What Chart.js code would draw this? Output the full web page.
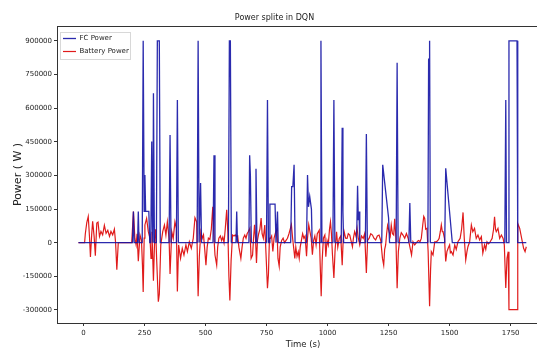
<!DOCTYPE html>
<html>
<head>
<meta charset="utf-8">
<script src="https://cdn.jsdelivr.net/npm/chart.js@4.4.1/dist/chart.umd.min.js"></script>
<style>
  html, body { margin: 0; padding: 0; background: #fff; overflow: hidden; }
  #wrap { width: 560px; height: 352px; overflow: hidden; }
</style>
</head>
<body>
<div id="wrap"><canvas id="powerChart" width="560" height="352"></canvas></div>
<script>
// FC power (blue): mostly zero with spikes
const fcTime = [-20, 201, 205, 208, 222, 225, 228, 241, 245, 249, 252, 255, 268, 272, 276, 280, 283, 285, 287, 291,
  299, 303, 311, 315, 351, 355, 359, 381, 385, 389, 466, 470, 474, 477, 480, 484, 531, 535, 539, 594, 598, 602, 606,
  625, 628, 631, 678, 681, 684, 688, 703, 707, 711, 750, 754, 758, 762, 764, 785, 789, 792, 795, 798, 849, 853, 858,
  863, 867, 914, 918, 922, 927, 934, 937, 970, 973, 977, 1022, 1026, 1030, 1056, 1060, 1063, 1066, 1119, 1123, 1126,
  1129, 1132, 1155, 1159, 1163, 1222, 1226, 1250, 1254, 1281, 1285, 1289, 1333, 1337, 1341, 1411, 1414, 1416, 1418,
  1421, 1480, 1484, 1511, 1726, 1730, 1733, 1740, 1743, 1776, 1779, 1814]
const fcPower = [0, 0, 139000, 0, 0, 139000, 0, 0, 900000, 140000, 302000, 140000, 140000, 0, 0, 451000, 60000, 0, 666000, 0,
  0, 900000, 900000, 0, 0, 480000, 0, 0, 636000, 0, 0, 900000, 0, 0, 266000, 0, 0, 390000, 0, 0, 900000, 900000, 0,
  0, 139000, 0, 0, 390000, 300000, 0, 0, 330000, 0, 0, 636000, 0, 0, 172000, 172000, 0, 0, 139000, 0, 0, 250000, 250000,
  347000, 0, 0, 302000, 160000, 206000, 150000, 0, 0, 900000, 0, 0, 636000, 0, 0, 512000, 139000, 0, 0, 254000, 100000,
  139000, 0, 0, 484000, 0, 0, 347000, 110000, 0, 0, 802000, 0, 0, 177000, 0, 0, 818000, 818000, 900000,
  0, 0, 332000, 0, 0, 636000, 0, 0, 900000, 900000, 0, 0]

// Battery power (red)
const batteryTime = [-20, 5, 8, 14, 20, 25, 29, 34, 38, 44, 49, 55, 60, 66, 72, 79, 86, 93, 100, 107, 113, 120, 127, 132, 137, 143,
  198, 205, 211, 216, 220, 225, 232, 238, 242, 245, 249, 252, 259, 266, 273, 277, 281, 287, 292, 296, 300, 307, 311, 317,
  325, 332, 338, 344, 351, 355, 362, 368, 375, 381, 385, 390, 398, 405, 412, 420, 426, 434, 442, 450, 457, 464, 470, 475,
  481, 487, 492, 497, 502, 507, 512, 518, 524, 530, 534, 539, 546, 550, 555, 561, 566, 571, 576, 581, 587, 592, 596, 600,
  605, 611, 617, 622, 627, 632, 637, 645, 650, 655, 661, 666, 671, 676, 682, 687, 693, 697, 701, 705, 709, 713, 718, 723,
  728, 732, 737, 743, 748, 754, 758, 762, 766, 771, 776, 781, 788, 793, 797, 802, 806, 812, 818, 824, 830, 836, 842, 848,
  852, 857, 862, 866, 870, 875, 880, 884, 888, 893, 898, 903, 908, 914, 918, 923, 928, 933, 938, 943, 948, 953, 958, 966,
  970, 974, 978, 983, 989, 993, 998, 1003, 1008, 1012, 1016, 1020, 1026, 1031, 1037, 1042, 1048, 1054, 1060, 1064, 1068,
  1074, 1080, 1085, 1091, 1096, 1102, 1106, 1111, 1116, 1121, 1126, 1132, 1139, 1146, 1152, 1159, 1164, 1170, 1177, 1184,
  1190, 1197, 1204, 1211, 1218, 1225, 1230, 1234, 1238, 1242, 1246, 1252, 1257, 1261, 1266, 1271, 1275, 1280, 1285, 1290,
  1296, 1302, 1309, 1316, 1323, 1330, 1337, 1344, 1350, 1357, 1364, 1372, 1379, 1384, 1390, 1394, 1398, 1402, 1407, 1412,
  1418, 1422, 1425, 1432, 1439, 1446, 1452, 1457, 1462, 1466, 1470, 1473, 1479, 1484, 1489, 1494, 1500, 1503, 1507, 1514,
  1521, 1527, 1534, 1543, 1549, 1555, 1560, 1566, 1571, 1575, 1582, 1589, 1595, 1602, 1609, 1616, 1623, 1630, 1636, 1643,
  1648, 1653, 1659, 1664, 1669, 1674, 1680, 1684, 1688, 1691, 1698, 1705, 1712, 1719, 1724, 1730, 1735, 1740, 1743, 1776,
  1779, 1787, 1795, 1803, 1809, 1814]
const batteryPower = [0, 0, 40000, 90000, 117000, 28000, -64000, 35000, 95000, 28000, -58000, 88000, 92000, 28000, 50000, 35000, 77000, 42000, 55000, 28000, 50000, 35000, 60000, 0, -120000, 0,
  0, 139000, 19000, -10000, 40000, -83000, 34000, 10000, -100000, -220000, 20000, 79000, 108000, 49000, 19000, -70000, 49000, -170000, 19000, 60000, -70000, -263000, -230000, -10000,
  49000, 79000, 34000, 93000, 19000, -140000, 49000, 19000, 93000, 64000, -217000, -10000, -70000, -25000, -55000, -10000, -40000, 4000, -25000, 19000, 111000, 93000, -239000, -60000,
  49000, 20000, 35000, -30000, -100000, -20000, 20000, 15000, 60000, 160000, 40000, -55000, -100000, -20000, 20000, 30000, 10000, 25000, 0, 60000, 147000, 40000, -150000, -258000,
  -80000, 34000, 30000, 35000, 27000, 30000, -20000, -70000, -20000, 20000, 34000, 20000, 41000, 50000, 64000, -70000, -55000, 20000, 80000, 20000, -90000, 10000, 40000, 60000,
  110000, 40000, 20000, 79000, -50000, -203000, -140000, 20000, 19000, 30000, -39000, 20000, 49000, 60000, -70000, -105000, -20000, 10000, 20000, 0, 10000, 20000, 40000, 64000,
  80000, 20000, -30000, -70000, -20000, -61000, -40000, -70000, -20000, 10000, 40000, 20000, 30000, -60000, 20000, 80000, 49000, 20000, -53000, 10000, 30000, -10000, 40000, 56000,
  -100000, -239000, -80000, 20000, 34000, -63000, 10000, -10000, 60000, 93000, 40000, -50000, -157000, -30000, 49000, -20000, 19000, 30000, -100000, 10000, 49000,
  20000, 19000, 40000, 34000, 10000, -18000, 20000, 49000, 30000, 64000, 20000, -10000, 30000, 19000, 40000, -135000, 10000, 19000, 40000, 34000,
  20000, 12000, 30000, 34000, 10000, -70000, -100000, -30000, -10000, 40000, 77000, 49000, 30000, 79000, 40000, 34000, 107000, 20000, -203000, -40000,
  19000, 45000, 34000, 20000, 41000, 20000, -18000, -55000, 4000, -10000, 0, 10000, 5000, 19000, 80000, 117000, 108000, 60000, 64000, -40000,
  -283000, -120000, -40000, -55000, 4000, 4000, 10000, 19000, 50000, 79000, 49000, 49000, 19000, -84000, -40000, -25000, -10000, -45000, -40000, -55000,
  -10000, -30000, 4000, 19000, 60000, 135000, 19000, -77000, -40000, -18000, 4000, 79000, 49000, 64000, 19000, 34000, 12000, 27000, -47000, -10000,
  -30000, 4000, -5000, 0, 10000, 19000, 60000, 116000, 60000, 49000, 64000, 19000, 34000, 19000, -10000, -202000, -70000, -40000, -298000, -298000,
  86000, 64000, 19000, -25000, -40000, -18000]

const xTicks = [0, 250, 500, 750, 1000, 1250, 1500, 1750]
const yTicks = [-300000, -150000, 0, 150000, 300000, 450000, 600000, 750000, 900000]

const toPoints = (xs, ys) => xs.map((x, i) => ({ x, y: ys[i] }))

Chart.defaults.font.family = "'DejaVu Sans', sans-serif"
Chart.defaults.color = "#222"

const LEGEND_PAD = 6

// matplotlib-style frame around the plot area
const axesFrame = {
  id: "axesFrame",
  afterDatasetsDraw(chart) {
    const { ctx, chartArea } = chart
    ctx.save()
    ctx.strokeStyle = "#333"
    ctx.lineWidth = 1
    ctx.strokeRect(chartArea.left + 0.5, chartArea.top + 0.5, chartArea.width, chartArea.height)
    ctx.restore()
  },
}

// a chartArea legend gets top = 0 after layout, so pin it inside the plot
// and draw the light box around its entries
const legendFrame = {
  id: "legendFrame",
  beforeDraw(chart) {
    const legend = chart.legend
    const h = legend.bottom - legend.top
    legend.top = chart.chartArea.top + 3
    legend.bottom = legend.top + h
    legend.adjustHitBoxes()
  },
  afterDraw(chart) {
    const legend = chart.legend
    const boxes = legend.legendHitBoxes
    if (!boxes || !boxes.length) return
    const left = legend.left + LEGEND_PAD - 3
    const top = Math.min(...boxes.map((b) => b.top)) - 3
    const right = legend.left + LEGEND_PAD + Math.max(...boxes.map((b) => b.width)) + 1
    const bottom = Math.max(...boxes.map((b) => b.top + b.height)) + 4
    const { ctx } = chart
    ctx.save()
    ctx.strokeStyle = "#d8d8d8"
    ctx.lineWidth = 1
    ctx.strokeRect(Math.round(left) + 0.5, Math.round(top) + 0.5, Math.round(right - left), Math.round(bottom - top))
    ctx.restore()
  },
}

const tickGrid = { drawOnChartArea: false, drawTicks: true, tickLength: 3, color: "#333" }

new Chart(document.getElementById("powerChart"), {
  type: "line",
  data: {
    datasets: [
      {
        label: "FC Power",
        data: toPoints(fcTime, fcPower),
        borderColor: "rgba(20, 20, 165, 0.9)",
        backgroundColor: "rgba(20, 20, 165, 0.9)",
        borderWidth: 1.3,
        pointRadius: 0,
        tension: 0,
        order: 0,
      },
      {
        label: "Battery Power",
        data: toPoints(batteryTime, batteryPower),
        borderColor: "#e01b1b",
        backgroundColor: "#e01b1b",
        borderWidth: 1.2,
        pointRadius: 0,
        tension: 0,
        order: 1,
      },
    ],
  },
  plugins: [axesFrame, legendFrame],
  options: {
    responsive: false,
    animation: false,
    devicePixelRatio: 1,
    layout: { padding: { left: 0, right: 11, top: 0, bottom: 0 } },
    plugins: {
      title: {
        display: true,
        text: "Power splite in DQN",
        font: { size: 8, weight: "normal" },
        color: "#222",
        padding: { top: 13, bottom: 3.4 },
      },
      legend: {
        position: "chartArea",
        align: "start",
        labels: {
          usePointStyle: true,
          pointStyle: "line",
          pointStyleWidth: 13,
          font: { size: 7 },
          color: "#222",
          padding: LEGEND_PAD,
        },
      },
      tooltip: { enabled: false },
    },
    scales: {
      x: {
        type: "linear",
        min: -108,
        max: 1907,
        afterBuildTicks: (scale) => {
          scale.ticks = xTicks.map((value) => ({ value }))
        },
        afterFit: (scale) => {
          scale.height = 29
        },
        grid: tickGrid,
        border: { display: false },
        ticks: { font: { size: 7 }, color: "#222", padding: 3, maxRotation: 0, callback: (v) => String(v) },
        title: {
          display: true,
          text: "Time (s)",
          font: { size: 8.5 },
          color: "#222",
          padding: { top: 0, bottom: 2.5 },
        },
      },
      y: {
        type: "linear",
        min: -358000,
        max: 966000,
        afterBuildTicks: (scale) => {
          scale.ticks = yTicks.map((value) => ({ value }))
        },
        afterFit: (scale) => {
          scale.width = 57
        },
        grid: tickGrid,
        border: { display: false },
        ticks: { font: { size: 7 }, color: "#222", padding: 2, callback: (v) => String(v) },
        title: {
          display: true,
          text: "Power ( W )",
          font: { size: 11 },
          color: "#222",
          padding: { top: 12, bottom: 0 },
        },
      },
    },
  },
})
</script>
</body>
</html>
